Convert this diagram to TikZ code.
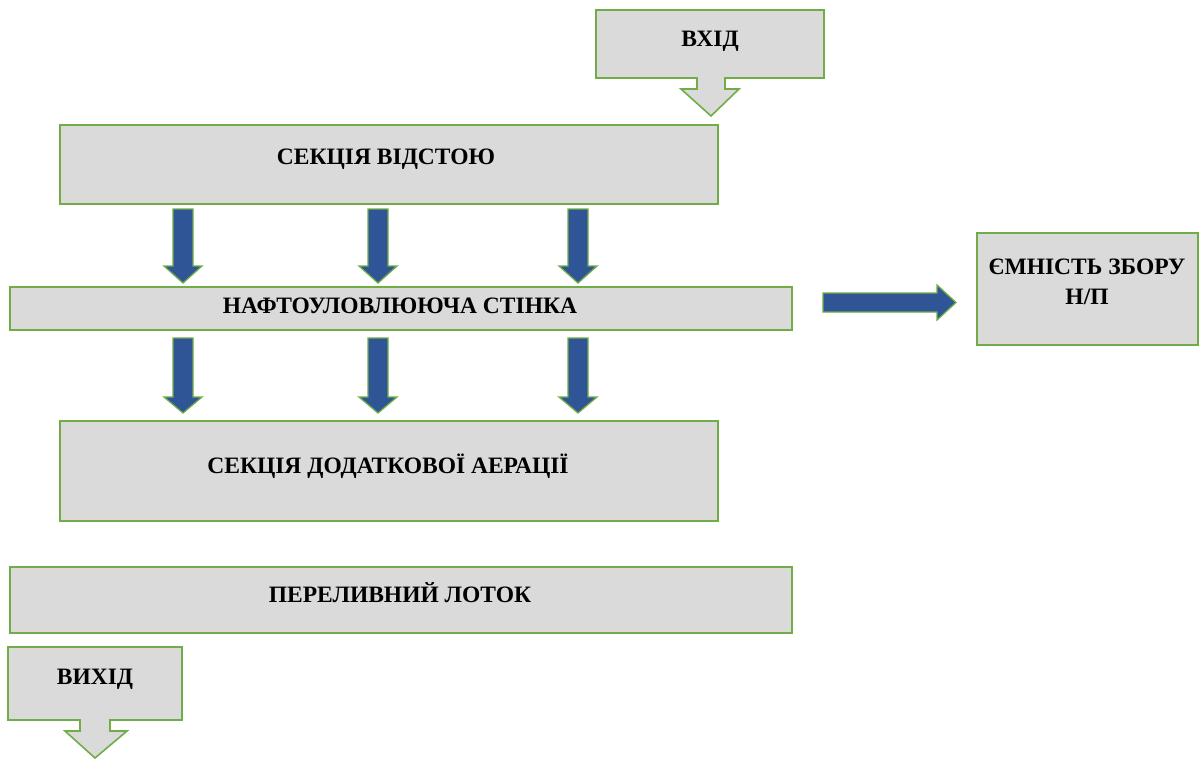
\documentclass[tikz,border=0pt]{standalone}
\usepackage{fontspec}
\setmainfont{Liberation Serif}
\tikzset{
  box/.style={draw=boxgreen, line width=1.6pt, fill=boxgray, inner sep=0pt, anchor=north west},
  lbl/.style={font=\fontsize{23.5}{30}\selectfont\bfseries, align=center, inner sep=0pt},
  blk/.style={draw=boxgreen, line width=1.3pt, fill=arrowblue},
  callout/.style={draw=boxgreen, line width=1.6pt, fill=boxgray, line join=miter}
}
\definecolor{boxgreen}{HTML}{70AD47}
\definecolor{boxgray}{HTML}{DADADA}
\definecolor{arrowblue}{HTML}{2F5597}
\begin{document}
\begin{tikzpicture}[x=1pt,y=-1pt]
\useasboundingbox (0,0) rectangle (1199,758);
% input callout
\draw[callout] (596,10) -- (824,10) -- (824,78) -- (725,78) -- (725,89) -- (739,89) -- (711,116) -- (681,89) -- (697,89) -- (697,78) -- (596,78) -- cycle;
\node[lbl] (vhid) at (710,41) {ВХІД};
% boxes
\node[box, minimum width=658pt, minimum height=79pt] (sv) at (59,124) {};
\node[lbl] (svt) at (386,159) {СЕКЦІЯ ВІДСТОЮ};
\node[box, minimum width=782pt, minimum height=43pt] (ns) at (9,286) {};
\node[lbl] (nst) at (400,306) {НАФТОУЛОВЛЮЮЧА СТІНКА};
\node[box, minimum width=658pt, minimum height=100pt] (sd) at (59,420) {};
\node[lbl] (sdt) at (388,466) {СЕКЦІЯ ДОДАТКОВОЇ АЕРАЦІЇ};
\node[box, minimum width=782pt, minimum height=66pt] (pl) at (9,566) {};
\node[lbl] (plt) at (400,593) {ПЕРЕЛИВНИЙ ЛОТОК};
\node[box, minimum width=221pt, minimum height=112pt] (em) at (976,232) {};
\node[lbl] (emt) at (1087,282) {ЄМНІСТЬ ЗБОРУ\\Н/П};
% output callout
\draw[callout] (8,647) -- (182,647) -- (182,720) -- (110,720) -- (110,731) -- (127,731) -- (95,758) -- (65,731) -- (80,731) -- (80,720) -- (8,720) -- cycle;
\node[lbl] (vyhid) at (95,679) {ВИХІД};
% blue block arrows
\foreach \cx in {183,378,578}{
  \draw[blk] (\cx-10,209) -- (\cx+10,209) -- (\cx+10,266) -- (\cx+19,266) -- (\cx,283) -- (\cx-19,266) -- (\cx-10,266) -- cycle;
  \draw[blk] (\cx-10,338) -- (\cx+10,338) -- (\cx+10,397) -- (\cx+19,397) -- (\cx,413) -- (\cx-19,397) -- (\cx-10,397) -- cycle;
}
\draw[blk] (823,293) -- (937,293) -- (937,285) -- (956,302.5) -- (937,320) -- (937,312) -- (823,312) -- cycle;
\end{tikzpicture}
\end{document}
